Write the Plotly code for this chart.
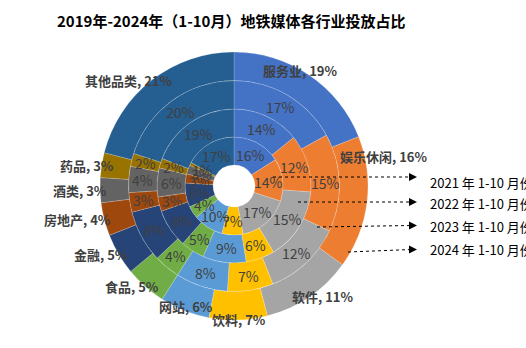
import math
import plotly.graph_objects as go

# ---------------- data ----------------
categories = ["服务业", "娱乐休闲", "软件", "饮料", "网站", "食品", "金融", "房地产", "酒类", "药品", "其他品类"]
y2021 = [16, 14, 17, 7, 10, 4, 8, 3, 3, 1, 17]
y2022 = [14, 12, 15, 6, 9, 5, 8, 3, 6, 2, 19]
y2023 = [17, 15, 12, 7, 8, 4, 8, 3, 4, 2, 20]
y2024 = [19, 16, 11, 7, 6, 5, 5, 4, 3, 3, 21]
ring_labels = ["2021 年 1-10 月份", "2022 年 1-10 月份", "2023 年 1-10 月份", "2024 年 1-10 月份"]
title_text = "2019年-2024年（1-10月）地铁媒体各行业投放占比"

# ---------------- style ----------------
colors = ["#4472C4", "#ED7D31", "#A5A5A5", "#FFC000", "#5B9BD5", "#70AD47",
          "#264478", "#9E480E", "#636363", "#997300", "#255E91"]
W, H = 526, 348
CX, CY = 234, 186
radii = [21, 49, 77, 105.5, 134]
FONT = "Noto Sans CJK SC, Microsoft YaHei, sans-serif"
label_r = 127
label_nudge = {"服务业": (-26, -5), "娱乐休闲": (-20, -46), "网站": (9, -4), "药品": (6, 0)}
arrow_start = [(273, 177), (298, 202), (317, 227), (348, 252)]
arrow_tip = [(417, 177), (417, 202), (417, 225.5), (417, 249.5)]
legend_text_pos = [(428, 182), (428, 203), (428, 226), (428, 249)]

rings = [y2021, y2022, y2023, y2024]

fig = go.Figure()
annotations = []

def to_paper(px, py):
    return px / W, 1 - py / H

def est_width(s, size=13):
    return sum(size if ord(c) > 255 else size * 0.56 for c in s)

for k, vals in enumerate(rings):
    r_in, r_out = radii[k], radii[k + 1]
    outer = (k == len(rings) - 1)
    fig.add_trace(go.Pie(
        labels=categories, values=vals, sort=False, direction="clockwise", rotation=0,
        hole=r_in / r_out, textinfo="none", showlegend=False,
        marker=dict(colors=colors, line=dict(color="rgba(255,255,255,0.3)", width=0.6)),
        domain=dict(x=[(CX - r_out) / W, (CX + r_out) / W],
                    y=[(H - CY - r_out) / H, (H - CY + r_out) / H]),
        name=ring_labels[k],
    ))
    total = sum(vals)
    cum = 0
    rm = (r_in + r_out) / 2
    for cat, v in zip(categories, vals):
        th = 2 * math.pi * (cum + v / 2) / total
        cum += v
        if not outer:
            px, py = CX + rm * math.sin(th), CY - rm * math.cos(th)
            x, y = to_paper(px, py)
            annotations.append(dict(x=x, y=y, xref="paper", yref="paper", text=f"{v}%",
                                    showarrow=False, xanchor="center", yanchor="middle",
                                    font=dict(family=FONT, size=14, color="#404040")))
        else:
            txt = f"{cat}, {v}%"
            w, h = est_width(txt), 14
            px, py = CX + label_r * math.sin(th), CY - label_r * math.cos(th)
            cx = px + w / 2 * math.sin(th)
            cy = py - h / 2 * math.cos(th)
            dx, dy = label_nudge.get(cat, (0, 0))
            x, y = to_paper(cx + dx, cy + dy)
            annotations.append(dict(x=x, y=y, xref="paper", yref="paper",
                                    text=f"<b>{txt}</b>", showarrow=False,
                                    xanchor="center", yanchor="middle",
                                    font=dict(family=FONT, size=13, color="#404040")))

shapes = []
for (x0, y0), (x1, y1), (tx, ty), lab in zip(arrow_start, arrow_tip, legend_text_pos, ring_labels):
    a0 = to_paper(x0, y0)
    a1 = to_paper(x1 - 6, y1)
    shapes.append(dict(type="line", xref="paper", yref="paper", x0=a0[0], y0=a0[1], x1=a1[0], y1=a1[1],
                       line=dict(color="black", width=1, dash="dot")))
    t = to_paper(x1, y1)
    annotations.append(dict(x=t[0], y=t[1], xref="paper", yref="paper", text="", showarrow=True,
                            ax=-9, ay=0, arrowhead=2, arrowsize=1.6, arrowwidth=1, arrowcolor="black"))
    p = to_paper(tx, ty)
    annotations.append(dict(x=p[0], y=p[1], xref="paper", yref="paper", text=lab, showarrow=False,
                            xanchor="left", yanchor="middle",
                            font=dict(family=FONT, size=13, color="black")))

tp = to_paper(55, 20)
annotations.append(dict(x=tp[0], y=tp[1], xref="paper", yref="paper", text=f"<b>{title_text}</b>",
                        showarrow=False, xanchor="left", yanchor="middle",
                        font=dict(family=FONT, size=15, color="black")))

fig.update_layout(
    width=W, height=H, margin=dict(l=0, r=0, t=0, b=0),
    paper_bgcolor="white", plot_bgcolor="white",
    annotations=annotations, shapes=shapes, showlegend=False,
)

fig.write_html("out.html")
